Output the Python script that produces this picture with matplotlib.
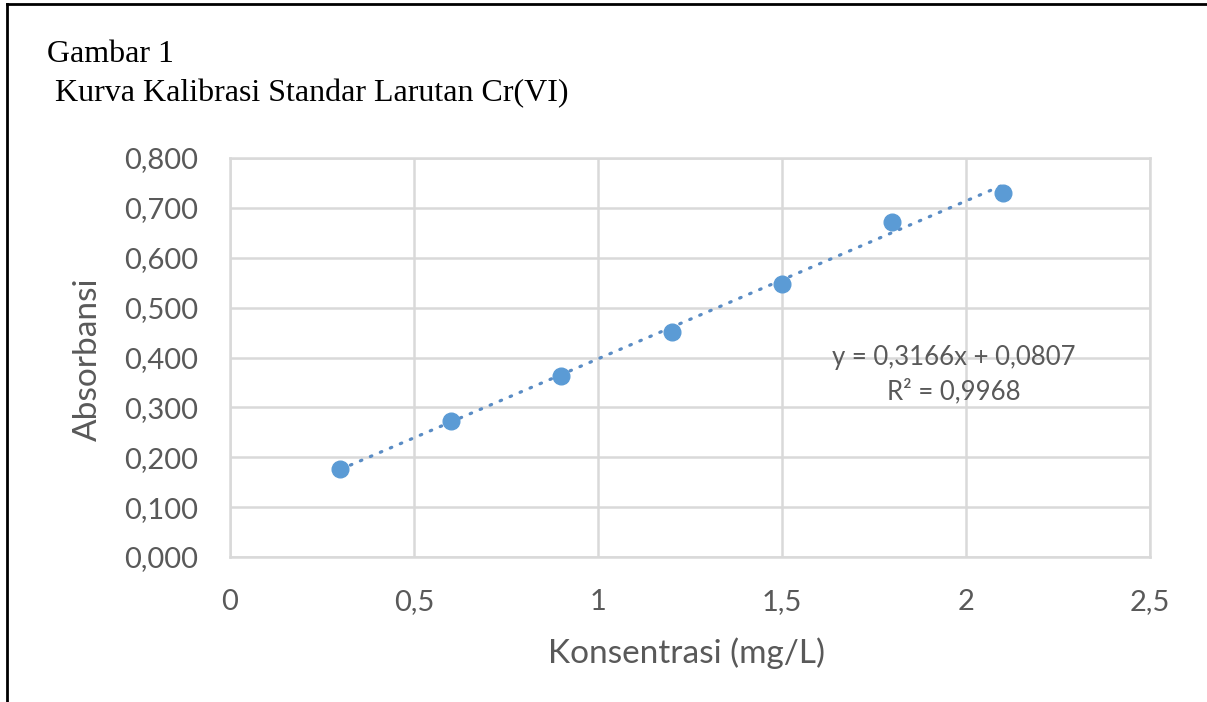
import numpy as np
import matplotlib
matplotlib.use("Agg")
import matplotlib.pyplot as plt
from matplotlib.ticker import FuncFormatter, MultipleLocator
from matplotlib.lines import Line2D

# data
konsentrasi = [0.3, 0.6, 0.9, 1.2, 1.5, 1.8, 2.1]
absorbansi = [0.176, 0.272, 0.362, 0.452, 0.547, 0.672, 0.730]
slope = 0.3166
intercept = 0.0807
r2 = 0.9968

judul1 = "Gambar 1"
judul2 = " Kurva Kalibrasi Standar Larutan Cr(VI)"
xlabel = "Konsentrasi (mg/L)"
ylabel = "Absorbansi"

biru = "#5B9BD5"
abu = "#595959"
grid = "#D9D9D9"

W, H = 1207, 702
fig = plt.figure(figsize=(W / 100, H / 100), dpi=100)
ax = fig.add_axes([230 / W, 1 - 557 / H, 920 / W, 399 / H])

# trendline
xt = np.array([konsentrasi[0], konsentrasi[-1]])
ax.plot(xt, slope * xt + intercept, color="#5A8CC4", lw=2.3,
        linestyle=(0, (0.5, 2.9)), dash_capstyle="round", zorder=2)
ax.plot(konsentrasi, absorbansi, "o", color=biru, ms=12, zorder=3)

ax.set_xlim(0, 2.5)
ax.set_ylim(0, 0.8)
ax.xaxis.set_major_locator(MultipleLocator(0.5))
ax.yaxis.set_major_locator(MultipleLocator(0.1))


def fmt_x(v, pos):
    s = ("%g" % round(v, 2))
    return s.replace(".", ",")


def fmt_y(v, pos):
    return ("%.3f" % v).replace(".", ",")


ax.xaxis.set_major_formatter(FuncFormatter(fmt_x))
ax.yaxis.set_major_formatter(FuncFormatter(fmt_y))

ax.grid(True, color=grid, lw=1.8)
ax.set_axisbelow(True)
for s in ax.spines.values():
    s.set_color(grid)
    s.set_linewidth(1.8)
ax.tick_params(length=0, labelsize=21, labelcolor=abu, pad=23)
for lab in ax.get_xticklabels() + ax.get_yticklabels():
    lab.set_family("Lato")

ax.text(0.787, 0.457, "y = 0,3166x + 0,0807\nR² = 0,9968", transform=ax.transAxes,
        ha="center", va="center", multialignment="center", fontsize=18.5,
        color=abu, family="Lato", linespacing=1.4)

fig.text(686 / W, 1 - 653 / H, xlabel, ha="center", va="center",
         fontsize=24, color=abu, family="Lato")
fig.text(88 / W, 1 - 359 / H, ylabel, ha="center", va="center", rotation=90,
         fontsize=24, color=abu, family="Lato")

fig.text(47 / W, 1 - 62 / H, judul1, ha="left", va="baseline",
         fontsize=23, family="Liberation Serif", color="black")
fig.text(47 / W, 1 - 101 / H, judul2, ha="left", va="baseline",
         fontsize=23, family="Liberation Serif", color="black")

# page frame (top and left only)
fig.add_artist(Line2D([7 / W, 1], [1 - 4 / H, 1 - 4 / H], color="black",
                      lw=2, transform=fig.transFigure))
fig.add_artist(Line2D([7 / W, 7 / W], [0, 1 - 4 / H], color="black",
                      lw=2, transform=fig.transFigure))

fig.savefig("out.png", dpi=100)
